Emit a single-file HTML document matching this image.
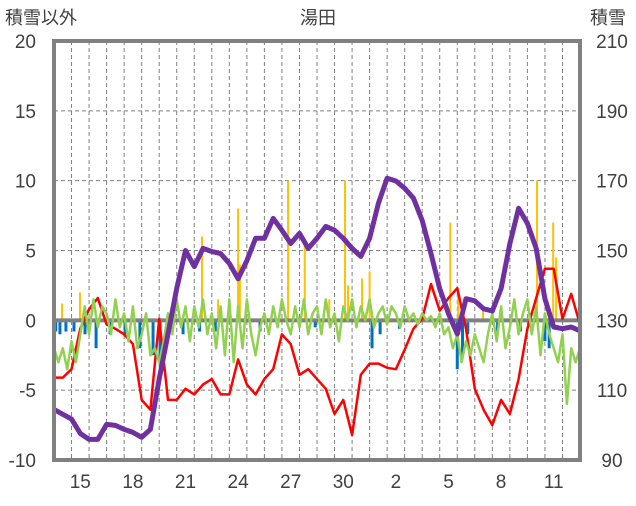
<!DOCTYPE html>
<html><head><meta charset="utf-8">
<style>
body{margin:0;background:#fff;}
svg text{font-family:"Liberation Sans","Noto Sans CJK JP",sans-serif;fill:#404040;}
</style></head>
<body>
<svg id="chart" width="636" height="501" viewBox="0 0 636 501" xmlns="http://www.w3.org/2000/svg">
<text x="5" y="24" font-size="18">積雪以外</text>
<text x="318" y="24" font-size="18" text-anchor="middle">湯田</text>
<text x="590" y="24" font-size="18">積雪</text>
<g id="grid"></g>
<g id="bars"></g>
<g id="lines"></g>
<rect x="54" y="41" width="526" height="419" fill="none" stroke="#808080" stroke-width="4"/>
<g id="labels"></g>
</svg>
<script>
const dayLabels = ["14","15","16","17","18","19","20","21","22","23","24","25","26","27","28","29","30","31","1","2","3","4","5","6","7","8","9","10","11","12"];
const shownDays = ["15","18","21","24","27","30","2","5","8","11"];
const leftTicks = [-10,-5,0,5,10,15,20];
const rightTicks = [90,110,130,150,170,190,210];
// half-day series
const snowDepth = [104.5,103.1,101.7,97.6,95.9,95.9,100.2,99.9,98.8,97.9,96.5,98.8,113.2,126.1,139.1,150,145.4,150.6,149.7,149.1,146.3,141.9,147.1,153.5,153.5,159.2,155.8,152,154.9,150.6,153.5,156.9,155.8,153.5,150.6,148.3,153.5,163.5,170.7,169.9,167.8,165,158.6,149.1,139.1,131.9,126.1,136.2,135.6,133.3,132.7,139.1,152,162.1,157.8,150.6,136.2,128.1,127.6,128.1,127];
const redSeries = [-4.1,-4.1,-3.5,-0.6,0.8,1.6,-0.3,-0.6,-1.0,-1.7,-5.7,-6.4,0.1,-5.7,-5.7,-4.9,-5.3,-4.6,-4.2,-5.3,-5.3,-2.8,-4.6,-5.3,-4.2,-3.5,-1.0,-1.7,-3.9,-3.5,-4.2,-4.9,-6.7,-5.7,-8.2,-3.9,-3.1,-3.1,-3.4,-3.5,-2.1,-0.6,0.1,2.6,0.7,1.6,2.3,-0.6,-4.9,-6.4,-7.5,-5.7,-6.7,-4.2,-0.6,1.6,3.7,3.7,0.1,1.9,-0.3];
// quarter-day series
const greenSeries = [-2,-3,-2,-3.5,-1.5,-3,-1,1,-1,1.5,-0.5,1,
0.5,-1,1.5,-0.5,0.5,-1.5,1,-2,-1,0.5,-2.5,-2,
-3,-1.5,0.5,-1,1.5,-0.5,1,-1.5,1,-0.5,1.5,-1,
0.5,-2,1,-2.5,1.5,-3,1,-2,1.5,-1,-2.5,-0.5,
0.5,-1,1,-0.5,1.5,0,-1,1,-0.5,1.5,-1,0.5,
1,-1,1.5,-0.5,0.5,-1.5,1,0,1.5,-0.5,1,0,
1.5,-0.5,0.5,1,-0.3,1,0.5,-0.5,1,0,0.5,-0.3,
0.5,0,0.3,-0.5,0.5,-1,-0.5,-2,-1,-3,-1.5,-2.5,
-1,-2,-3,-1,0.5,-1.5,1,-2,-0.5,1.5,-1,0.5,
1.5,-1,1,-2.5,0.5,-1,-2,-3,-1,-6,-2,-3,-2];
const yellowTimes = [0.46,1.48,8.44,9.36,10.5,10.6,13.35,14.3,15.7,16.6,16.77,17.57,18.0,22.6,23.05,24.47,27.55,28.47,28.64];
const yellowValues = [1.2,2,6,1.5,8,4,10,5.5,1.5,10,2.5,3,3.5,7,2,1,10,7,4.5];
const blueTimes = [0.1,0.34,0.68,1.14,1.77,2.4,3.2,4.05,4.9,5.65,6.05,6.5,7.36,8.3,9.2,11.75,14.9,18.14,18.6,19.7,23,23.3,23.6,25.3,26.6,28,28.24];
const blueValues = [-0.8,-1,-0.8,-0.8,-1,-2,-1,-1,-2,-2.5,-3,-1,-1,-0.8,-0.8,-0.8,-0.5,-2,-1,-0.6,-3.5,-2.5,-1,-0.8,-0.8,-1.5,-2];

const X0=54, X1=580, Y0=460, Y1=41, NDAYS=30;
const xScale = t => X0 + t*(X1-X0)/NDAYS;
const yL = v => Y0 - (v+10)*(Y0-Y1)/30;
const yR = v => Y0 - (v-90)*(Y0-Y1)/120;
const NS="http://www.w3.org/2000/svg";
function mk(tag, parent, attrs){const e=document.createElementNS(NS,tag);for(const k in attrs)e.setAttribute(k,attrs[k]);parent.appendChild(e);return e;}
const grid=document.getElementById('grid'), bars=document.getElementById('bars'), lines=document.getElementById('lines'), labels=document.getElementById('labels');

for(let i=1;i<NDAYS;i++){
  const g=mk('line',grid,{x1:xScale(i),x2:xScale(i),y1:Y1,y2:Y0,stroke:'#808080','stroke-width':1,'stroke-dasharray':'4,3'});
  
  
}
leftTicks.forEach((v,i)=>{
  if(v!==0 && v!==-10 && v!==20){
    const g=mk('line',grid,{x1:X0,x2:X1,y1:yL(v),y2:yL(v),stroke:'#808080','stroke-width':1,'stroke-dasharray':'4,3'});
    
    
  }
  const t=mk('text',labels,{x:36,y:yL(v)+7,'font-size':19,'text-anchor':'end'});
  t.textContent=v;
  
  
  const r=mk('text',labels,{x:612,y:yR(rightTicks[i])+7,'font-size':19,'text-anchor':'middle'});
  r.textContent=rightTicks[i];
  
  
});
dayLabels.forEach((d,i)=>{
  if(shownDays.includes(d) && !(d==="2"&&i<18) && !(d==="5"&&i<18)){
    const t=mk('text',labels,{x:xScale(i+0.5),y:488,'font-size':19,'text-anchor':'middle'});
    t.textContent=d;
    
    
  }
});
yellowTimes.forEach((t,i)=>{
  const b=mk('rect',bars,{x:xScale(t)-1,y:yL(yellowValues[i]),width:2,height:yL(0)-yL(yellowValues[i]),fill:'#FFC000'});
  
  
});
blueTimes.forEach((t,i)=>{
  const b=mk('rect',bars,{x:xScale(t)-1.5,y:yL(0),width:3,height:yL(blueValues[i])-yL(0),fill:'#0070C0'});
  
  
});
const zl=mk('line',bars,{x1:X0,x2:X1,y1:yL(0),y2:yL(0),stroke:'#808080','stroke-width':4});



function path(arr, step, ys){return arr.map((v,i)=>(i?'L':'M')+xScale(i*step).toFixed(1)+','+ys(v).toFixed(1)).join(' ');}
const red=mk('path',lines,{d:path(redSeries,0.5,yL),fill:'none',stroke:'#FF0000','stroke-width':2.5,'stroke-linejoin':'round'});


const green=mk('path',lines,{d:path(greenSeries,0.25,yL),fill:'none',stroke:'#92D050','stroke-width':2.5,'stroke-linejoin':'round'});


const purple=mk('path',lines,{d:path(snowDepth,0.5,yR),fill:'none',stroke:'#7030A0','stroke-width':5,'stroke-linejoin':'round'});


</script>
</body></html>
